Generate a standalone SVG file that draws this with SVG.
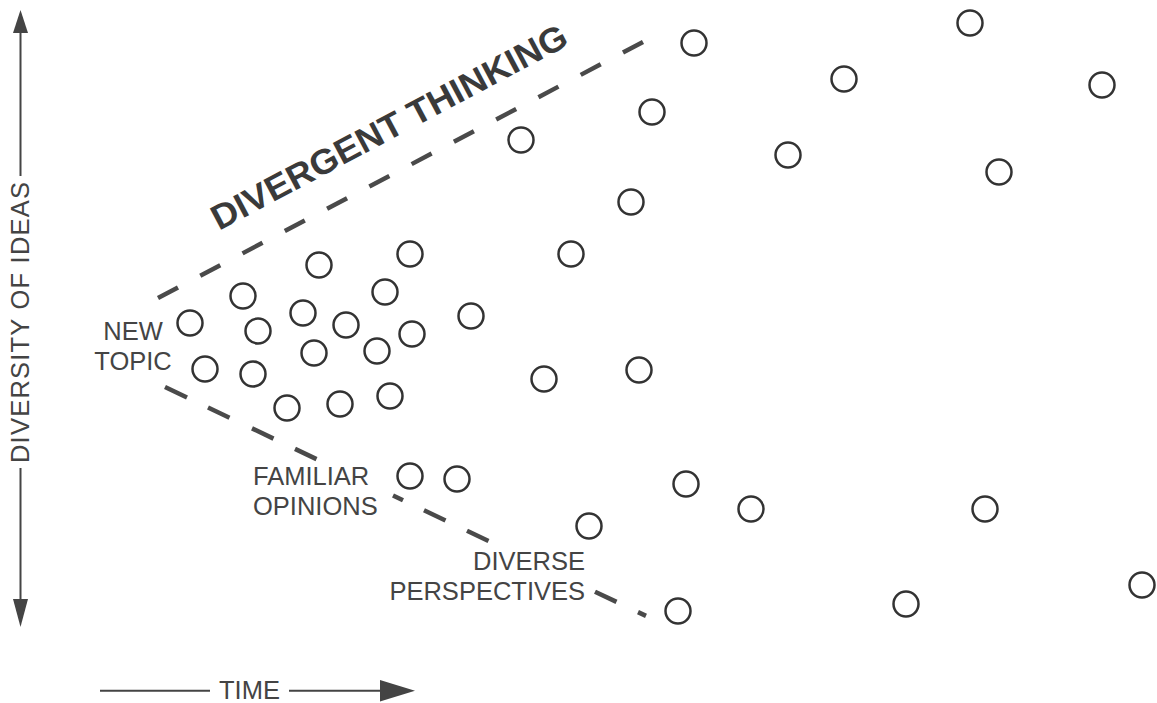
<svg xmlns="http://www.w3.org/2000/svg" width="1157" height="703" viewBox="0 0 1157 703">
<style>
.idea{fill:none;stroke:#333;stroke-width:2.5}
.lbl{font-family:"Liberation Sans",Arial,sans-serif;font-size:25.5px;fill:#444}
.title{font-family:"Liberation Sans",Arial,sans-serif;font-size:35px;font-weight:bold;fill:#3a3a3a}
.axis{stroke:#444;stroke-width:2;fill:none}
.head{fill:#444}
.dash{stroke:#4a4a4a;stroke-width:4.5;fill:none}
</style>
<rect width="1157" height="703" fill="#fff"/>
<g id="connectors">
<path class="dash" d="M158,298 L643,42" stroke-dasharray="22.6 25.2"/>
<path class="dash" d="M165,387 L187,397.5 M208,407.5 L229.5,417.7 M252,428.4 L273.5,438.6 M295,448.9 L316.5,459.1 M393,495.5 L403,500.3 M424,510.3 L445.5,520.5 M467,530.8 L488.5,541 M595,591.7 L616.5,601.9 M638,612.1 L646,615.9"/>
</g>
<g id="axis-diversity">
<path class="axis" d="M20.5,30 V176 M20.5,468 V602"/>
<polygon class="head" points="20.5,10 13,33 28,33"/>
<polygon class="head" points="20.5,627 13,599 28,599"/>
<text class="lbl" transform="translate(29,463) rotate(-90)" x="0" y="0" textLength="281" lengthAdjust="spacing">DIVERSITY OF IDEAS</text>
</g>
<g id="axis-time">
<path class="axis" d="M100,690.7 H210 M289,690.7 H385"/>
<polygon class="head" points="415,690.7 380,680 380,701.5"/>
<text class="lbl" x="219" y="699">TIME</text>
</g>
<g id="title">
<text class="title" transform="translate(219,231) rotate(-28)" x="0" y="0" textLength="398" lengthAdjust="spacingAndGlyphs">DIVERGENT THINKING</text>
</g>
<g id="label-new-topic">
<text class="lbl" x="133" y="340" text-anchor="middle">NEW</text>
<text class="lbl" x="133" y="370" text-anchor="middle">TOPIC</text>
</g>
<g id="label-familiar">
<text class="lbl" x="253" y="485">FAMILIAR</text>
<text class="lbl" x="253" y="515">OPINIONS</text>
</g>
<g id="label-diverse">
<text class="lbl" x="585" y="570" text-anchor="end">DIVERSE</text>
<text class="lbl" x="585" y="600" text-anchor="end">PERSPECTIVES</text>
</g>
<g id="idea-1"><circle class="idea" cx="319" cy="265" r="12.5"/></g>
<g id="idea-2"><circle class="idea" cx="410" cy="254" r="12.5"/></g>
<g id="idea-3"><circle class="idea" cx="243" cy="296" r="12.5"/></g>
<g id="idea-4"><circle class="idea" cx="385" cy="292" r="12.5"/></g>
<g id="idea-5"><circle class="idea" cx="190" cy="323" r="12.5"/></g>
<g id="idea-6"><circle class="idea" cx="303" cy="313" r="12.5"/></g>
<g id="idea-7"><circle class="idea" cx="258" cy="331" r="12.5"/></g>
<g id="idea-8"><circle class="idea" cx="346" cy="325" r="12.5"/></g>
<g id="idea-9"><circle class="idea" cx="412" cy="334" r="12.5"/></g>
<g id="idea-10"><circle class="idea" cx="471" cy="316" r="12.5"/></g>
<g id="idea-11"><circle class="idea" cx="205" cy="369" r="12.5"/></g>
<g id="idea-12"><circle class="idea" cx="253" cy="374" r="12.5"/></g>
<g id="idea-13"><circle class="idea" cx="314" cy="353" r="12.5"/></g>
<g id="idea-14"><circle class="idea" cx="377" cy="351" r="12.5"/></g>
<g id="idea-15"><circle class="idea" cx="287" cy="408" r="12.5"/></g>
<g id="idea-16"><circle class="idea" cx="340" cy="404" r="12.5"/></g>
<g id="idea-17"><circle class="idea" cx="390" cy="396" r="12.5"/></g>
<g id="idea-18"><circle class="idea" cx="694" cy="43" r="12.5"/></g>
<g id="idea-19"><circle class="idea" cx="652" cy="112" r="12.5"/></g>
<g id="idea-20"><circle class="idea" cx="521" cy="140" r="12.5"/></g>
<g id="idea-21"><circle class="idea" cx="631" cy="202" r="12.5"/></g>
<g id="idea-22"><circle class="idea" cx="571" cy="254" r="12.5"/></g>
<g id="idea-23"><circle class="idea" cx="970" cy="23" r="12.5"/></g>
<g id="idea-24"><circle class="idea" cx="844" cy="79" r="12.5"/></g>
<g id="idea-25"><circle class="idea" cx="1102" cy="85" r="12.5"/></g>
<g id="idea-26"><circle class="idea" cx="788" cy="155" r="12.5"/></g>
<g id="idea-27"><circle class="idea" cx="999" cy="172" r="12.5"/></g>
<g id="idea-28"><circle class="idea" cx="544" cy="379" r="12.5"/></g>
<g id="idea-29"><circle class="idea" cx="639" cy="370" r="12.5"/></g>
<g id="idea-30"><circle class="idea" cx="410" cy="476" r="12.5"/></g>
<g id="idea-31"><circle class="idea" cx="457" cy="479" r="12.5"/></g>
<g id="idea-32"><circle class="idea" cx="686" cy="484" r="12.5"/></g>
<g id="idea-33"><circle class="idea" cx="751" cy="509" r="12.5"/></g>
<g id="idea-34"><circle class="idea" cx="589" cy="526" r="12.5"/></g>
<g id="idea-35"><circle class="idea" cx="678" cy="611" r="12.5"/></g>
<g id="idea-36"><circle class="idea" cx="985" cy="509" r="12.5"/></g>
<g id="idea-37"><circle class="idea" cx="906" cy="604" r="12.5"/></g>
<g id="idea-38"><circle class="idea" cx="1142" cy="585" r="12.5"/></g>
</svg>
